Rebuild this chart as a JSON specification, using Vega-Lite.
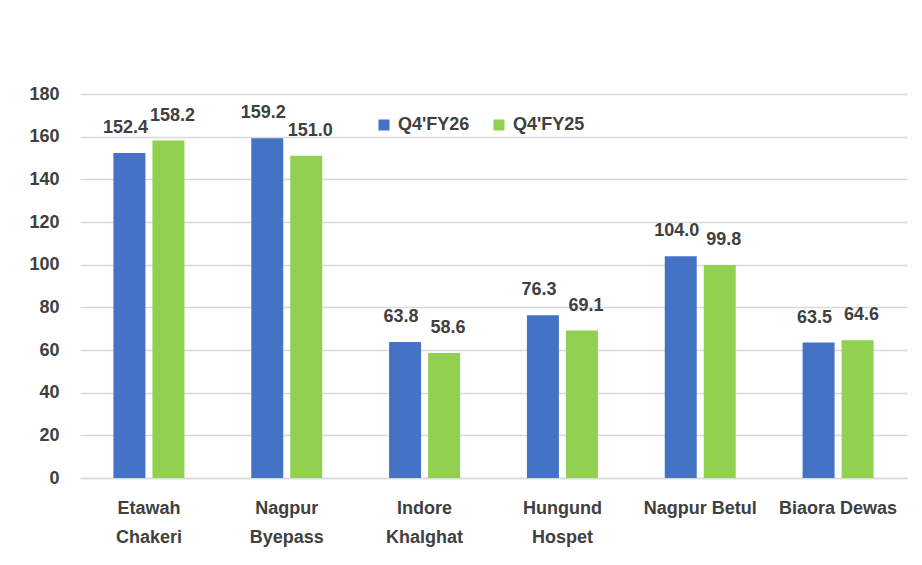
{
  "$schema": "https://vega.github.io/schema/vega-lite/v6.json",
  "width": 827,
  "height": 384,
  "autosize": "none",
  "padding": {"left": 80, "top": 94, "right": 15, "bottom": 87},
  "background": "white",
  "config": {
    "view": {"stroke": null},
    "font": "Liberation Sans",
    "text": {"font": "Liberation Sans"}
  },
  "data": {
    "values": [
      {"site": "Etawah Chakeri", "period": "Q4'FY26", "value": 152.4},
      {"site": "Etawah Chakeri", "period": "Q4'FY25", "value": 158.2},
      {"site": "Nagpur Byepass", "period": "Q4'FY26", "value": 159.2},
      {"site": "Nagpur Byepass", "period": "Q4'FY25", "value": 151.0},
      {"site": "Indore Khalghat", "period": "Q4'FY26", "value": 63.8},
      {"site": "Indore Khalghat", "period": "Q4'FY25", "value": 58.6},
      {"site": "Hungund Hospet", "period": "Q4'FY26", "value": 76.3},
      {"site": "Hungund Hospet", "period": "Q4'FY25", "value": 69.1},
      {"site": "Nagpur Betul", "period": "Q4'FY26", "value": 104.0},
      {"site": "Nagpur Betul", "period": "Q4'FY25", "value": 99.8},
      {"site": "Biaora Dewas", "period": "Q4'FY26", "value": 63.5},
      {"site": "Biaora Dewas", "period": "Q4'FY25", "value": 64.6}
    ]
  },
  "encoding": {
    "x": {
      "field": "site",
      "type": "nominal",
      "sort": null,
      "scale": {"paddingInner": 0.485, "paddingOuter": 0.2425},
      "axis": {
        "title": null,
        "labelAngle": 0,
        "ticks": false,
        "domain": true,
        "domainColor": "#D9D9D9",
        "domainWidth": 1.5,
        "labelFont": "Liberation Sans",
        "labelFontWeight": "bold",
        "labelFontSize": 18,
        "labelColor": "#404040",
        "labelPadding": 21,
        "labelLineHeight": 29,
        "labelBaseline": "top",
        "labelExpr": "indexof(['Nagpur Betul','Biaora Dewas'], datum.value) >= 0 ? datum.value : split(datum.value, ' ')"
      }
    },
    "xOffset": {
      "field": "period",
      "type": "nominal",
      "sort": ["Q4'FY26", "Q4'FY25"],
      "scale": {"paddingInner": 0.18}
    },
    "y": {
      "field": "value",
      "type": "quantitative",
      "scale": {"domain": [0, 180]},
      "axis": {
        "title": null,
        "values": [0, 20, 40, 60, 80, 100, 120, 140, 160, 180],
        "domain": false,
        "ticks": false,
        "grid": true,
        "gridColor": "#D9D9D9",
        "gridWidth": 1.5,
        "labelFont": "Liberation Sans",
        "labelFontWeight": "bold",
        "labelFontSize": 18,
        "labelColor": "#404040",
        "labelPadding": 21
      }
    }
  },
  "layer": [
    {
      "mark": {"type": "bar"},
      "encoding": {
        "color": {
          "field": "period",
          "type": "nominal",
          "sort": ["Q4'FY26", "Q4'FY25"],
          "scale": {"domain": ["Q4'FY26", "Q4'FY25"], "range": ["#4472C4", "#92D050"]},
          "legend": {
            "title": null,
            "orient": "none",
            "direction": "horizontal",
            "legendX": 295,
            "legendY": 22,
            "symbolType": "square",
            "symbolSize": 121,
            "symbolStrokeWidth": 0,
            "labelFont": "Liberation Sans",
            "labelFontWeight": "bold",
            "labelFontSize": 18,
            "labelColor": "#404040",
            "labelOffset": 5,
            "columnPadding": 20
          }
        }
      }
    },
    {
      "transform": [{"filter": "datum.period === \"Q4'FY26\""}],
      "mark": {
        "type": "text",
        "baseline": "middle",
        "dy": -25,
        "dx": -4,
        "font": "Liberation Sans",
        "fontWeight": "bold",
        "fontSize": 18,
        "color": "#404040"
      },
      "encoding": {
        "text": {"field": "value", "type": "quantitative", "format": ".1f"}
      }
    },
    {
      "transform": [{"filter": "datum.period === \"Q4'FY25\""}],
      "mark": {
        "type": "text",
        "baseline": "middle",
        "dy": -25,
        "dx": 4,
        "font": "Liberation Sans",
        "fontWeight": "bold",
        "fontSize": 18,
        "color": "#404040"
      },
      "encoding": {
        "text": {"field": "value", "type": "quantitative", "format": ".1f"}
      }
    }
  ]
}
